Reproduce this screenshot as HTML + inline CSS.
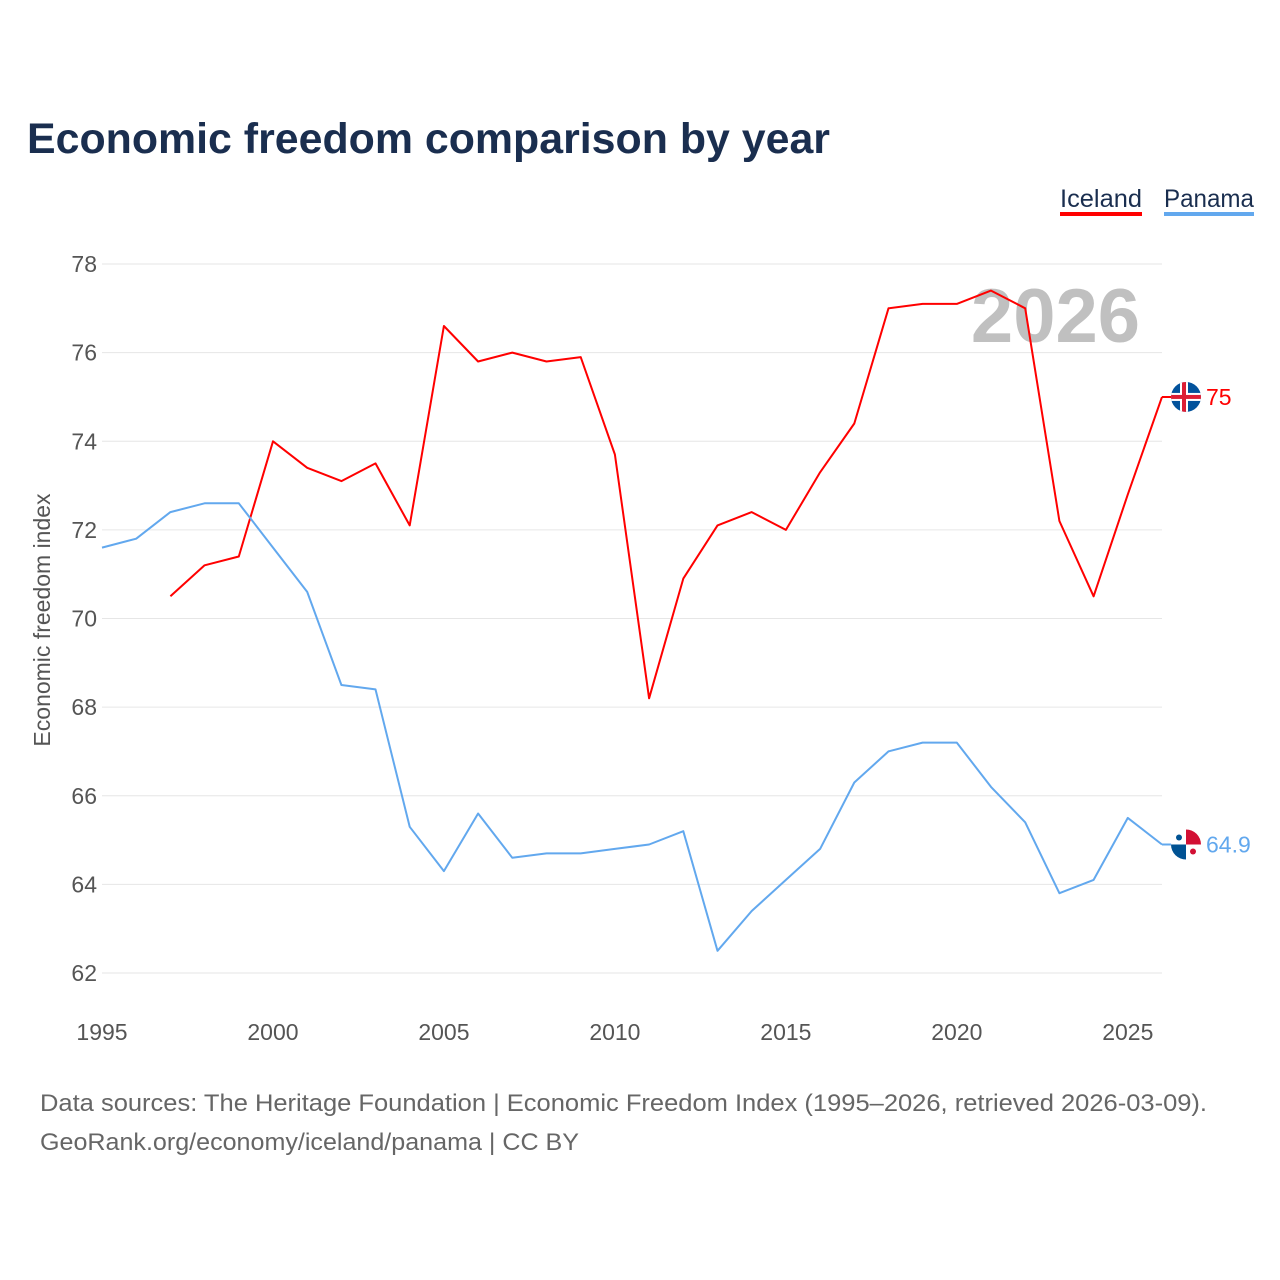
<!DOCTYPE html>
<html><head><meta charset="utf-8">
<style>
body{margin:0;background:#fff;font-family:"Liberation Sans",sans-serif;}
</style></head>
<body>
<svg id="chart" width="1280" height="1280" xmlns="http://www.w3.org/2000/svg" style="display:block">
  <text x="27" y="153" font-size="43" font-weight="bold" fill="#1a2e4f" textLength="803" lengthAdjust="spacingAndGlyphs">Economic freedom comparison by year</text>
  <g>
    <text x="1060" y="207" font-size="25" fill="#1a2e4f" textLength="82" lengthAdjust="spacingAndGlyphs">Iceland</text>
    <rect x="1060" y="212" width="82" height="4" fill="#ff0000"/>
    <text x="1164" y="207" font-size="25" fill="#1a2e4f" textLength="90" lengthAdjust="spacingAndGlyphs">Panama</text>
    <rect x="1164" y="212" width="90" height="4" fill="#62a8ee"/>
  </g>
  <text x="1140" y="342" font-size="76" font-weight="bold" fill="#c0c0c0" text-anchor="end">2026</text>
  <g id="grid"></g>
  <g id="xaxis"></g>
  <g id="series"></g>
  <text transform="translate(50,620) rotate(-90)" font-size="23" fill="#555" text-anchor="middle">Economic freedom index</text>
  <text x="40" y="1111" font-size="24" fill="#666" textLength="1167" lengthAdjust="spacingAndGlyphs">Data sources: The Heritage Foundation | Economic Freedom Index (1995–2026, retrieved 2026-03-09).</text>
  <text x="40" y="1150" font-size="24" fill="#666" textLength="539" lengthAdjust="spacingAndGlyphs">GeoRank.org/economy/iceland/panama | CC BY</text>
</svg>
<script>
const years = [1995,1996,1997,1998,1999,2000,2001,2002,2003,2004,2005,2006,2007,2008,2009,2010,2011,2012,2013,2014,2015,2016,2017,2018,2019,2020,2021,2022,2023,2024,2025,2026];
const iceland = [null,null,70.5,71.2,71.4,74.0,73.4,73.1,73.5,72.1,76.6,75.8,76.0,75.8,75.9,73.7,68.2,70.9,72.1,72.4,72.0,73.3,74.4,77.0,77.1,77.1,77.4,77.0,72.2,70.5,72.8,75.0];
const panama = [71.6,71.8,72.4,72.6,72.6,71.6,70.6,68.5,68.4,65.3,64.3,65.6,64.6,64.7,64.7,64.8,64.9,65.2,62.5,63.4,64.1,64.8,66.3,67.0,67.2,67.2,66.2,65.4,63.8,64.1,65.5,64.9];
const yTicks = [62,64,66,68,70,72,74,76,78];
const xTicks = [1995,2000,2005,2010,2015,2020,2025];

const NS="http://www.w3.org/2000/svg";
const X0=102,X1=1162,Y0=973,Y1=264;
const xs=y=>X0+(y-1995)/(2026-1995)*(X1-X0);
const ys=v=>Y0-(v-62)/(78-62)*(Y0-Y1);
function mk(tag,attrs,parent){const e=document.createElementNS(NS,tag);for(const k in attrs)e.setAttribute(k,attrs[k]);parent.appendChild(e);return e;}
const grid=document.getElementById('grid');
yTicks.forEach(t=>{
  const l=mk('line',{x1:X0,x2:X1,y1:ys(t),y2:ys(t),stroke:'#e6e6e6','stroke-width':1},grid);
  
  
  const tx=mk('text',{x:97,y:ys(t)+8,'font-size':23,fill:'#555','text-anchor':'end'},grid);
  tx.textContent=t;
  
  
});
const xa=document.getElementById('xaxis');
xTicks.forEach(t=>{
  const tx=mk('text',{x:xs(t),y:1040,'font-size':23,fill:'#555','text-anchor':'middle'},xa);
  tx.textContent=t;
  
  
});
const sg=document.getElementById('series');
function line(vals,color,name){
  let d='';vals.forEach((v,i)=>{if(v==null)return;d+=(d?'L':'M')+xs(years[i]).toFixed(1)+','+ys(v).toFixed(1);});
  const p=mk('path',{d:d,fill:'none',stroke:color,'stroke-width':2,'stroke-linejoin':'round'},sg);
  
  
}
line(iceland,'#ff0000','iceland');
line(panama,'#62a8ee','panama');
function endLabel(vals,color,name,flag){
  const v=vals[vals.length-1],cx=xs(2026)+24,cy=ys(v);
  mk('line',{x1:xs(2026),x2:cx,y1:cy,y2:cy,stroke:color,'stroke-width':2},sg);
  const g=mk('g',{},sg);
  
  
  const cid='clip-'+name;
  const cp=mk('clipPath',{id:cid},g);mk('circle',{cx:cx,cy:cy,r:15},cp);
  const f=mk('g',{'clip-path':'url(#'+cid+')'},g);
  if(flag==='is'){
    mk('rect',{x:cx-15,y:cy-15,width:30,height:30,fill:'#02529c'},f);
    mk('rect',{x:cx-15,y:cy-4,width:30,height:8,fill:'#fff'},f);
    mk('rect',{x:cx-6,y:cy-15,width:8,height:30,fill:'#fff'},f);
    mk('rect',{x:cx-15,y:cy-2,width:30,height:4,fill:'#dc1e35'},f);
    mk('rect',{x:cx-4,y:cy-15,width:4,height:30,fill:'#dc1e35'},f);
  }else{
    mk('rect',{x:cx-15,y:cy-15,width:30,height:30,fill:'#fff'},f);
    mk('rect',{x:cx,y:cy-15,width:15,height:15,fill:'#d21034'},f);
    mk('rect',{x:cx-15,y:cy,width:15,height:15,fill:'#005293'},f);
    mk('circle',{cx:cx-7,cy:cy-7,r:3,fill:'#005293'},f);
    mk('circle',{cx:cx+7,cy:cy+7,r:3,fill:'#d21034'},f);
  }
  const t=mk('text',{x:cx+20,y:cy+8,'font-size':23,fill:color},sg);
  t.textContent=v;
  
  
}
endLabel(iceland,'#ff0000','iceland','is');
endLabel(panama,'#62a8ee','panama','pa');
</script>
</body></html>
